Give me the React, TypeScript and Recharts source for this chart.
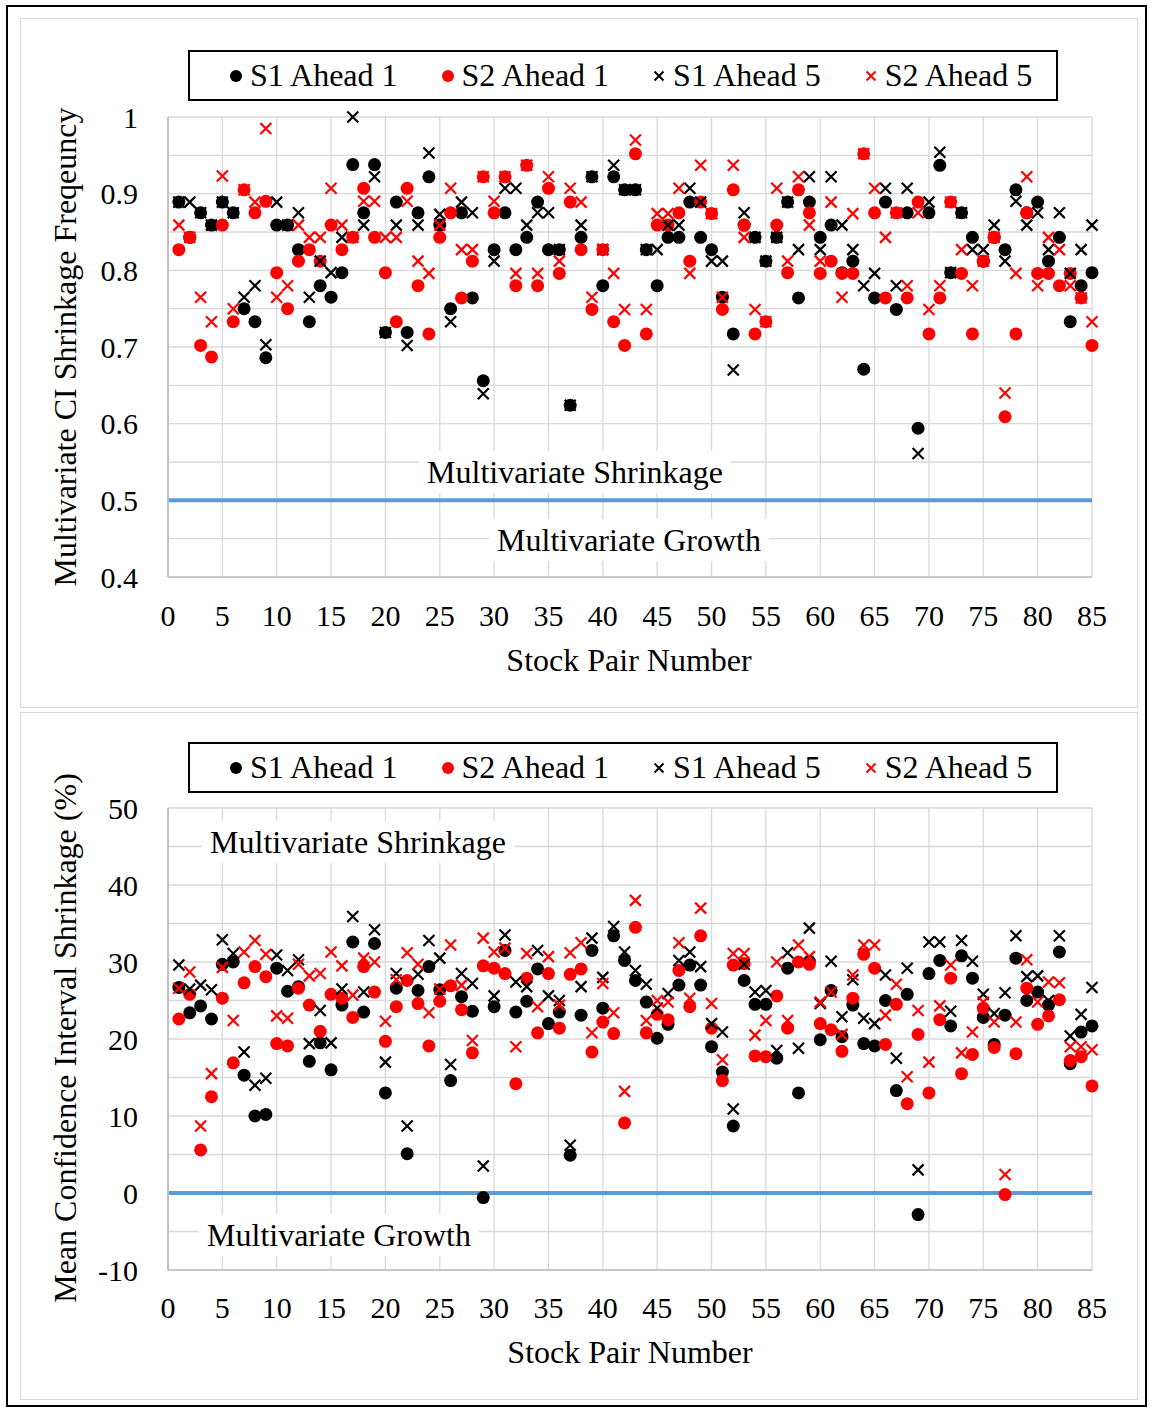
import React from 'react'
import {
  ScatterChart,
  Scatter,
  XAxis,
  YAxis,
  CartesianGrid,
  ReferenceLine,
} from 'recharts'

// stock pair number 1..85 (category index)
const pairs = Array.from({ length: 85 }, (_, i) => i + 1)
const xTicks = [0, 5, 10, 15, 20, 25, 30, 35, 40, 45, 50, 55, 60, 65, 70, 75, 80, 85]

// top panel: multivariate CI shrinkage frequency
const freqTicks = [0.4, 0.45, 0.5, 0.55, 0.6, 0.65, 0.7, 0.75, 0.8, 0.85, 0.9, 0.95, 1]
const freqS1A1 = [
  0.889, 0.843, 0.875, 0.859, 0.889, 0.875, 0.75, 0.733, 0.686, 0.859,
  0.859, 0.827, 0.733, 0.78, 0.765, 0.797, 0.938, 0.875, 0.938, 0.719,
  0.889, 0.719, 0.875, 0.922, 0.859, 0.75, 0.875, 0.764, 0.656, 0.827,
  0.875, 0.827, 0.843, 0.889, 0.827, 0.827, 0.624, 0.843, 0.922, 0.78,
  0.922, 0.905, 0.905, 0.827, 0.78, 0.843, 0.843, 0.889, 0.843, 0.827,
  0.765, 0.717, 0.859, 0.843, 0.812, 0.843, 0.889, 0.764, 0.889, 0.843,
  0.859, 0.797, 0.812, 0.671, 0.764, 0.889, 0.749, 0.875, 0.594, 0.875,
  0.937, 0.797, 0.875, 0.843, 0.812, 0.843, 0.827, 0.905, 0.875, 0.889,
  0.812, 0.843, 0.733, 0.78, 0.797,
]
const freqS2A1 = [
  0.827, 0.843, 0.702, 0.687, 0.859, 0.733, 0.905, 0.875, 0.89, 0.797,
  0.75, 0.812, 0.827, 0.812, 0.859, 0.827, 0.843, 0.907, 0.843, 0.797,
  0.733, 0.907, 0.78, 0.717, 0.843, 0.875, 0.764, 0.812, 0.922, 0.875,
  0.922, 0.78, 0.937, 0.78, 0.907, 0.796, 0.889, 0.827, 0.749, 0.827,
  0.733, 0.702, 0.952, 0.717, 0.859, 0.859, 0.875, 0.812, 0.889, 0.874,
  0.749, 0.905, 0.859, 0.717, 0.733, 0.859, 0.797, 0.905, 0.875, 0.796,
  0.812, 0.796, 0.796, 0.952, 0.875, 0.764, 0.875, 0.764, 0.889, 0.717,
  0.764, 0.889, 0.796, 0.717, 0.812, 0.843, 0.609, 0.717, 0.875, 0.796,
  0.796, 0.78, 0.796, 0.764, 0.702,
]
const freqS1A5 = [
  0.889, 0.889, 0.875, 0.859, 0.889, 0.875, 0.765, 0.78, 0.703, 0.889,
  0.859, 0.875, 0.765, 0.812, 0.797, 0.843, 1.0, 0.859, 0.922, 0.719,
  0.859, 0.702, 0.859, 0.953, 0.873, 0.733, 0.889, 0.875, 0.639, 0.812,
  0.907, 0.907, 0.859, 0.875, 0.875, 0.827, 0.624, 0.859, 0.922, 0.827,
  0.937, 0.905, 0.905, 0.827, 0.827, 0.859, 0.859, 0.907, 0.889, 0.812,
  0.812, 0.67, 0.875, 0.843, 0.812, 0.843, 0.889, 0.827, 0.922, 0.827,
  0.922, 0.859, 0.827, 0.78, 0.796, 0.907, 0.78, 0.907, 0.561, 0.889,
  0.954, 0.797, 0.875, 0.827, 0.827, 0.859, 0.812, 0.89, 0.859, 0.875,
  0.827, 0.875, 0.796, 0.827, 0.859,
]
const freqS2A5 = [
  0.859, 0.843, 0.765, 0.733, 0.923, 0.75, 0.905, 0.889, 0.985, 0.765,
  0.78, 0.859, 0.843, 0.843, 0.907, 0.859, 0.843, 0.89, 0.89, 0.843,
  0.843, 0.89, 0.812, 0.796, 0.859, 0.907, 0.827, 0.827, 0.922, 0.89,
  0.922, 0.796, 0.937, 0.796, 0.922, 0.812, 0.907, 0.889, 0.765, 0.827,
  0.796, 0.749, 0.97, 0.749, 0.874, 0.874, 0.907, 0.796, 0.937, 0.874,
  0.765, 0.937, 0.843, 0.749, 0.733, 0.907, 0.812, 0.922, 0.859, 0.812,
  0.889, 0.765, 0.874, 0.952, 0.907, 0.843, 0.875, 0.78, 0.875, 0.749,
  0.78, 0.889, 0.827, 0.78, 0.812, 0.843, 0.64, 0.796, 0.922, 0.78,
  0.843, 0.827, 0.78, 0.764, 0.733,
]

// bottom panel: mean confidence interval shrinkage (%)
const pctTicks = [-10, -5, 0, 5, 10, 15, 20, 25, 30, 35, 40, 45, 50]
const pctS1A1 = [
  26.7, 23.4, 24.3, 22.6, 29.7, 30.0, 15.3, 10.0, 10.2, 29.2,
  26.2, 26.8, 17.1, 19.5, 16.0, 24.4, 32.6, 23.5, 32.4, 13.0,
  26.6, 5.1, 26.3, 29.4, 26.4, 14.6, 25.5, 23.6, -0.6, 24.2,
  31.5, 23.5, 24.9, 29.1, 22.0, 23.5, 4.9, 23.1, 31.5, 24.0,
  33.4, 30.2, 27.6, 24.8, 20.1, 21.9, 27.0, 29.6, 27.0, 19.0,
  15.7, 8.7, 27.6, 24.5, 24.5, 17.5, 29.2, 13.0, 30.1, 19.9,
  26.3, 20.3, 24.4, 19.4, 19.1, 25.0, 13.3, 25.8, -2.8, 28.5,
  30.2, 21.7, 30.8, 27.9, 22.8, 19.3, 23.1, 30.5, 25.0, 26.1,
  24.4, 31.3, 16.8, 20.9, 21.7,
]
const pctS2A1 = [
  22.6, 25.8, 5.6, 12.5, 25.3, 16.9, 27.3, 29.4, 28.1, 19.4,
  19.1, 26.6, 24.4, 21.0, 25.8, 25.3, 22.8, 29.4, 26.1, 19.7,
  24.2, 27.6, 24.6, 19.1, 24.9, 26.9, 23.8, 18.2, 29.5, 29.2,
  28.5, 14.2, 27.9, 20.8, 28.5, 21.4, 28.4, 29.1, 18.3, 22.2,
  20.7, 9.1, 34.5, 20.8, 23.2, 22.5, 28.9, 24.2, 33.4, 21.4,
  14.6, 29.6, 29.8, 17.8, 17.7, 25.6, 21.4, 30.0, 29.7, 22.0,
  21.2, 18.4, 25.3, 31.0, 29.2, 19.3, 24.5, 11.6, 20.6, 13.0,
  22.5, 27.9, 15.5, 18.0, 24.0, 18.9, -0.2, 18.1, 26.6, 21.9,
  23.0, 25.1, 17.2, 17.7, 13.9,
]
const pctS1A5 = [
  29.6, 26.5, 27.0, 26.4, 32.9, 31.1, 18.3, 14.0, 14.9, 30.9,
  28.9, 30.3, 19.4, 23.7, 19.5, 26.5, 35.9, 26.1, 34.2, 17.0,
  28.5, 8.7, 28.4, 32.8, 30.5, 16.7, 28.5, 27.2, 3.5, 25.6,
  33.5, 27.4, 26.8, 31.5, 25.6, 25.0, 6.2, 26.8, 33.1, 28.0,
  34.6, 31.3, 28.9, 27.1, 24.0, 25.9, 30.2, 31.3, 29.4, 22.0,
  20.9, 10.9, 29.7, 26.1, 26.3, 18.5, 31.2, 18.8, 34.4, 24.6,
  30.1, 22.9, 27.7, 22.7, 22.0, 28.3, 17.5, 29.2, 3.0, 32.6,
  32.6, 23.6, 32.8, 30.1, 25.8, 23.3, 26.0, 33.4, 28.1, 28.2,
  25.0, 33.4, 20.4, 23.2, 26.7,
]
const pctS2A5 = [
  26.6, 28.7, 8.7, 15.5, 29.3, 22.4, 31.3, 32.8, 31.0, 23.0,
  22.7, 29.7, 28.2, 28.5, 31.3, 29.5, 25.7, 30.5, 30.0, 22.3,
  27.7, 31.2, 29.7, 23.4, 26.5, 32.2, 27.0, 19.8, 33.1, 31.3,
  31.8, 19.0, 31.1, 24.2, 30.7, 24.4, 31.2, 32.5, 20.8, 27.2,
  23.4, 13.2, 38.0, 22.4, 25.0, 24.8, 32.5, 25.3, 37.0, 24.6,
  17.3, 31.1, 31.1, 20.5, 22.4, 30.0, 22.4, 32.2, 30.7, 24.8,
  26.1, 20.6, 28.3, 32.2, 32.2, 23.1, 27.1, 15.1, 23.7, 17.0,
  24.3, 29.6, 18.2, 20.9, 24.8, 22.2, 2.4, 22.2, 30.3, 24.8,
  27.4, 27.3, 19.0, 19.0, 18.6,
]

const seriesNames = ['S1 Ahead 1', 'S2 Ahead 1', 'S1 Ahead 5', 'S2 Ahead 5']
const seriesColors = ['#000000', '#ff0000', '#000000', '#ff0000']
const seriesKinds = ['dot', 'dot', 'cross', 'cross']

const FONT = '"Liberation Serif", "Times New Roman", serif'
const GRID = '#d9d9d9'

const toPoints = (vals: number[]) => pairs.map((p, i) => ({ x: p, y: vals[i] }))

const dotShape = (color: string) => (props: any) => (
  <circle cx={props.cx} cy={props.cy} r={6.5} fill={color} />
)

const crossShape = (color: string) => (props: any) => {
  const { cx, cy } = props
  const s = 5.5
  return (
    <path
      d={`M${cx - s},${cy - s}L${cx + s},${cy + s}M${cx + s},${cy - s}L${cx - s},${cy + s}`}
      stroke={color}
      strokeWidth={2.2}
      fill="none"
    />
  )
}

function LegendBox({ top }: { top: number }) {
  return (
    <div
      style={{
        position: 'absolute',
        left: 188,
        top,
        width: 870,
        height: 51,
        boxSizing: 'border-box',
        border: '2px solid #000',
        background: '#fff',
        display: 'flex',
        alignItems: 'center',
        justifyContent: 'flex-start',
        paddingLeft: 39,
        gap: 43,
        fontSize: 32,
        fontFamily: FONT,
      }}
    >
      {seriesNames.map((name, i) => (
        <div key={name} style={{ display: 'flex', alignItems: 'center', gap: 7 }}>
          <svg width={14} height={14}>
            {seriesKinds[i] === 'dot' ? (
              <circle cx={7} cy={7} r={6} fill={seriesColors[i]} />
            ) : (
              <path d="M2.5,2.5L11.5,11.5M11.5,2.5L2.5,11.5" stroke={seriesColors[i]} strokeWidth={2} />
            )}
          </svg>
          <span>{name}</span>
        </div>
      ))}
    </div>
  )
}

function Note({ x, y, text, bg }: { x: number; y: number; text: string; bg?: boolean }) {
  return (
    <div
      style={{
        position: 'absolute',
        left: x,
        top: y,
        transform: 'translate(-50%, -50%)',
        whiteSpace: 'nowrap',
        fontSize: 32,
        lineHeight: '34px',
        fontFamily: FONT,
        padding: bg ? '4px 8px' : 0,
        background: bg ? '#fff' : 'transparent',
      }}
    >
      {text}
    </div>
  )
}

function VTitle({ x, y, text }: { x: number; y: number; text: string }) {
  return (
    <div
      style={{
        position: 'absolute',
        left: x,
        top: y,
        transform: 'translate(-50%, -50%) rotate(-90deg)',
        whiteSpace: 'nowrap',
        fontSize: 32,
        lineHeight: '34px',
        fontFamily: FONT,
      }}
    >
      {text}
    </div>
  )
}

interface PanelProps {
  top: number
  height: number
  plotTop: number
  plotBottomSpace: number
  domain: [number, number]
  ticks: number[]
  refY: number
  data: number[][]
  fmt: (v: number) => string
  xTickMargin: number
}

function Panel({ top, height, plotTop, plotBottomSpace, domain, ticks, refY, data, fmt, xTickMargin }: PanelProps) {
  const tickStyle = { fontSize: 30, fill: '#000', fontFamily: FONT }
  return (
    <div style={{ position: 'absolute', left: 20, top, width: 1118, height }}>
      <ScatterChart
        width={1118}
        height={height}
        margin={{ top: plotTop, right: 46, bottom: 0, left: 0 }}
      >
        <CartesianGrid stroke={GRID} strokeWidth={1.3} />
        <XAxis
          type="number"
          dataKey="x"
          domain={[0, 85]}
          ticks={xTicks}
          interval={0}
          height={plotBottomSpace}
          tick={tickStyle}
          tickLine={false}
          tickMargin={xTickMargin}
          axisLine={{ stroke: '#bfbfbf', strokeWidth: 1.5 }}
        />
        <YAxis
          type="number"
          dataKey="y"
          domain={domain}
          ticks={ticks}
          interval={0}
          width={148}
          tick={tickStyle}
          tickLine={false}
          tickMargin={24}
          tickFormatter={fmt}
          axisLine={{ stroke: '#bfbfbf', strokeWidth: 2 }}
        />
        <ReferenceLine y={refY} stroke="#5b9bd5" strokeWidth={4} />
        {data.map((vals, i) => (
          <Scatter
            key={seriesNames[i]}
            name={seriesNames[i]}
            data={toPoints(vals)}
            isAnimationActive={false}
            shape={seriesKinds[i] === 'dot' ? dotShape(seriesColors[i]) : crossShape(seriesColors[i])}
          />
        ))}
      </ScatterChart>
      <div
        style={{
          position: 'absolute',
          left: 0,
          top: 0,
          width: 1118,
          height,
          boxSizing: 'border-box',
          border: '1px solid #d9d9d9',
          pointerEvents: 'none',
        }}
      />
    </div>
  )
}

const fmtFreq = (v: number) => {
  const t = Math.round(v * 100)
  if (t % 10 !== 0) return ''
  return t === 100 ? '1' : (t / 100).toFixed(1)
}
const fmtPct = (v: number) => (Math.round(v) % 10 === 0 ? String(Math.round(v)) : '')

export default function App() {
  return (
    <div
      style={{
        position: 'absolute',
        left: 0,
        top: 0,
        width: 1152,
        height: 1412,
        background: '#fff',
        fontFamily: FONT,
      }}
    >
      <div
        style={{
          position: 'absolute',
          left: 6,
          top: 5,
          width: 1141,
          height: 1402,
          boxSizing: 'border-box',
          border: '2px solid #000',
        }}
      />
      <Panel
        top={18}
        height={690}
        plotTop={99}
        plotBottomSpace={131}
        domain={[0.4, 1]}
        ticks={freqTicks}
        refY={0.5}
        data={[freqS1A1, freqS2A1, freqS1A5, freqS2A5]}
        fmt={fmtFreq}
        xTickMargin={22}
      />
      <Panel
        top={712}
        height={688}
        plotTop={96}
        plotBottomSpace={130}
        domain={[-10, 50]}
        ticks={pctTicks}
        refY={0}
        data={[pctS1A1, pctS2A1, pctS1A5, pctS2A5]}
        fmt={fmtPct}
        xTickMargin={21}
      />
      <LegendBox top={50} />
      <LegendBox top={742} />
      <Note x={575} y={472} text="Multivariate Shrinkage" bg />
      <Note x={629} y={540} text="Multivariate Growth" bg />
      <Note x={358} y={842} text="Multivariate Shrinkage" bg />
      <Note x={339} y={1235} text="Multivariate Growth" bg />
      <Note x={629} y={660} text="Stock Pair Number" />
      <Note x={630} y={1352} text="Stock Pair Number" />
      <VTitle x={65} y={347} text="Multivariate CI Shrinkage Freqeuncy" />
      <VTitle x={65} y={1038} text="Mean Confidence Interval Shrinkage (%)" />
    </div>
  )
}
